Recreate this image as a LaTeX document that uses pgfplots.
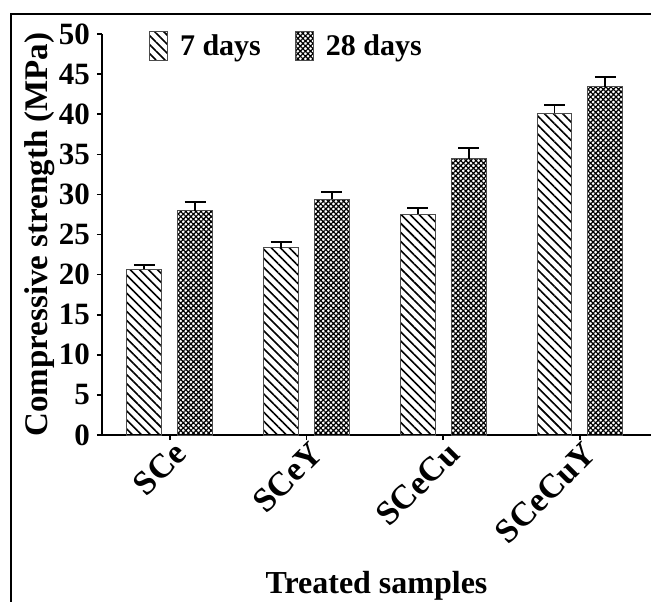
\documentclass[border=0pt]{standalone}
\usepackage{fontspec}
\setmainfont{Liberation Serif}
\usepackage{pgfplots}
\pgfplotsset{compat=1.18}
\usetikzlibrary{patterns.meta}
\begin{document}
\begin{tikzpicture}
\useasboundingbox (-51pt,-83pt) rectangle (274.5pt,217.5pt);
\draw[line width=1pt] (-45.5pt,-90pt) -- (-45.5pt,210.5pt) -- (290pt,210.5pt);
\begin{axis}[
  at={(0pt,0pt)}, anchor=south west,
  scale only axis, width=274.5pt, height=200.5pt,
  xmin=-0.496, xmax=3.52, ymin=0, ymax=50,
  axis x line*=bottom, axis y line*=left,
  axis line style={line width=0.8pt, black},
  ytick={0,5,...,50},
  xtick={0,1,2,3},
  xticklabels={SCe,SCeY,SCeCu,SCeCuY},
  tick align=outside, major tick length=2.5pt,
  tick style={line width=0.8pt, black},
  /pgf/number format/assume math mode=true,
  tick label style={font=\fontsize{15.5}{17}\selectfont\bfseries},
  x tick label style={rotate=45, anchor=east, font=\fontsize{17}{19}\selectfont\bfseries, xshift=4.5pt, yshift=-6.5pt},
  ylabel={Compressive strength (MPa)},
  xlabel={Treated samples},
  label style={font=\fontsize{16.5}{18}\selectfont\bfseries},
  ylabel style={at={(axis description cs:-0.113,0.5)}, anchor=center},
  xlabel style={at={(axis description cs:0.5,-0.375)}, anchor=center, font=\fontsize{16}{18}\selectfont\bfseries},
  ybar, bar width=0.255,
  error bars/y dir=plus, error bars/y explicit,
  error bars/error bar style={line width=0.9pt, black},
  error bars/error mark options={rotate=90, mark size=5.25pt, line width=0.9pt, black},
  legend columns=2,
  legend style={draw=none, fill=none, at={(axis description cs:0.085,1.01)}, anchor=north west,
    font=\fontsize{15}{17}\selectfont\bfseries, inner sep=0pt,
    /tikz/every odd column/.append style={column sep=4pt},
    /tikz/every even column/.append style={column sep=15pt}},
  legend image code/.code={\draw[#1] (0pt,-7.25pt) rectangle (9pt,7.25pt);},
]
\addplot[bar shift=-0.186, draw=black!70, line width=0.5pt,
  pattern={Lines[angle=-45, distance=3.2pt, line width=0.8pt]}]
  table[x=x, y=y, y error=e] {
x y e
0 20.66 0.55
1 23.36 0.75
2 27.50 0.85
3 40.10 1.05
};
\addlegendentry{7 days}
\addplot[bar shift=0.186, draw=black!70, line width=0.5pt,
  pattern={Hatch[angle=45, distance=1.8pt, line width=0.6pt]}]
  table[x=x, y=y, y error=e] {
x y e
0 27.97 1.08
1 29.39 0.87
2 34.45 1.34
3 43.43 1.17
};
\addlegendentry{28 days}
\end{axis}
\end{tikzpicture}
\end{document}
